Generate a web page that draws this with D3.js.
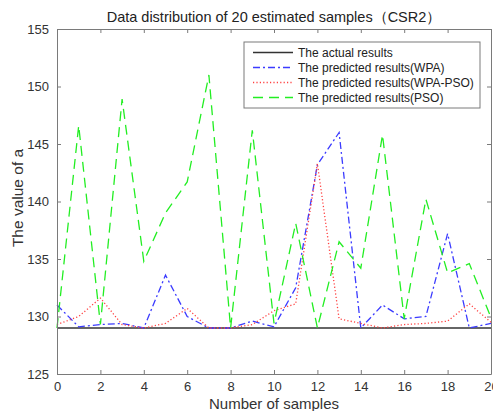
<!DOCTYPE html>
<html>
<head>
<meta charset="utf-8">
<script src="https://cdn.jsdelivr.net/npm/d3@7"></script>
<style>
    html, body { margin: 0; padding: 0; background: #fff; }
    svg { display: block; font-family: "Liberation Sans", Arial, sans-serif; }
</style>
</head>
<body>
<div id="chart"></div>
<script>
// Données (21 échantillons, 0..20)
const samples = d3.range(0, 21);

const actualValues = [129, 129, 129, 129, 129, 129, 129, 129, 129, 129, 129,
    129, 129, 129, 129, 129, 129, 129, 129, 129, 129];

const wpaValues = [131.0, 129.1, 129.3, 129.4, 129.0, 133.6, 130.0, 129.0, 129.0, 129.6, 129.1,
    132.5, 143.2, 146.0, 129.0, 131.0, 129.8, 130.0, 137.2, 129.0, 129.4];

const wpaPsoValues = [129.3, 130.0, 131.6, 129.3, 129.0, 129.4, 130.7, 129.0, 129.0, 129.3, 130.5,
    131.1, 143.3, 129.8, 129.4, 129.0, 129.3, 129.4, 129.6, 131.1, 129.5];

const psoValues = [129.0, 146.6, 129.3, 148.9, 134.8, 139.0, 141.7, 151.0, 129.0, 146.2, 129.4,
    138.1, 129.0, 136.5, 134.2, 145.8, 129.8, 140.2, 133.8, 134.6, 129.9];

const xTicks = [0, 2, 4, 6, 8, 10, 12, 14, 16, 18, 20];
const yTicks = [125, 130, 135, 140, 145, 150, 155];

const seriesNames = [
    "The actual results",
    "The predicted results(WPA)",
    "The predicted results(WPA-PSO)",
    "The predicted results(PSO)"
];

const series = [
    { name: seriesNames[0], values: actualValues, color: "#333333", dash: null, width: 1.3 },
    { name: seriesNames[1], values: wpaValues, color: "#3b3bff", dash: "7,3,2,3", width: 1.3 },
    { name: seriesNames[2], values: wpaPsoValues, color: "#ff4040", dash: "1.2,2.2", width: 1.3 },
    { name: seriesNames[3], values: psoValues, color: "#22ee22", dash: "10,6", width: 1.3 }
];

const W = 493, H = 411;
const margin = { top: 29, right: 2, bottom: 37, left: 57 };
const width = W - margin.left - margin.right;
const height = H - margin.top - margin.bottom;
const axisColor = "#7a7a7a";

const svg = d3.select("#chart").append("svg")
    .attr("width", W)
    .attr("height", H);

const g = svg.append("g")
    .attr("transform", `translate(${margin.left},${margin.top})`);

// Échelles
const x = d3.scaleLinear().domain([0, 20]).range([0, width]);
const y = d3.scaleLinear().domain([125, 155]).range([height, 0]);

// Fond blanc de la zone de tracé
g.append("rect")
    .attr("width", width)
    .attr("height", height)
    .attr("fill", "#fff");

// Courbes
const line = d3.line()
    .x((d, i) => x(samples[i]))
    .y(d => y(d));

series.forEach(s => {
    g.append("path")
        .datum(s.values)
        .attr("fill", "none")
        .attr("stroke", s.color)
        .attr("stroke-width", s.width)
        .attr("stroke-dasharray", s.dash)
        .attr("d", line);
});

// Axes (ticks vers l'intérieur, style MATLAB)
const tickLen = 4;
const styleAxis = sel => {
    sel.select(".domain").attr("stroke", axisColor);
    sel.selectAll(".tick line").attr("stroke", axisColor);
    sel.selectAll(".tick text").attr("fill", "#333").attr("font-size", "13px")
        .attr("font-family", "Liberation Sans, Arial, sans-serif");
};

g.append("g")
    .attr("transform", `translate(0,${height})`)
    .call(d3.axisBottom(x).tickValues(xTicks).tickSizeInner(-tickLen).tickSizeOuter(0).tickPadding(8))
    .call(styleAxis);

g.append("g")
    .call(d3.axisTop(x).tickValues(xTicks).tickSizeInner(-tickLen).tickSizeOuter(0).tickFormat(""))
    .call(styleAxis);

g.append("g")
    .call(d3.axisLeft(y).tickValues(yTicks).tickSizeInner(-tickLen).tickSizeOuter(0).tickPadding(8))
    .call(styleAxis);

g.append("g")
    .attr("transform", `translate(${width},0)`)
    .call(d3.axisRight(y).tickValues(yTicks).tickSizeInner(-tickLen).tickSizeOuter(0).tickFormat(""))
    .call(styleAxis);

// Titre et libellés
svg.append("text")
    .attr("x", margin.left + width / 2)
    .attr("y", 22)
    .attr("text-anchor", "middle")
    .attr("font-size", "14.5px")
    .attr("fill", "#222")
    .text("Data distribution of 20 estimated samples（CSR2）");

svg.append("text")
    .attr("x", margin.left + width / 2)
    .attr("y", 409)
    .attr("text-anchor", "middle")
    .attr("font-size", "15px")
    .attr("fill", "#333")
    .text("Number of samples");

svg.append("text")
    .attr("transform", `translate(23,198) rotate(-90)`)
    .attr("text-anchor", "middle")
    .attr("font-size", "15.5px")
    .attr("fill", "#333")
    .text("The value of a");

// Légende
const legend = svg.append("g").attr("transform", "translate(244,42)");
legend.append("rect")
    .attr("width", 236)
    .attr("height", 66)
    .attr("fill", "#fff")
    .attr("stroke", axisColor)
    .attr("stroke-width", 1);

series.forEach((s, i) => {
    const row = legend.append("g").attr("transform", `translate(0,${10.5 + i * 15})`);
    row.append("line")
        .attr("x1", 9).attr("x2", 49)
        .attr("y1", 0).attr("y2", 0)
        .attr("stroke", s.color)
        .attr("stroke-width", s.width)
        .attr("stroke-dasharray", s.dash);
    row.append("text")
        .attr("x", 54)
        .attr("y", 0)
        .attr("dy", "0.36em")
        .attr("font-size", "12px")
        .attr("fill", "#222")
        .text(s.name);
});
</script>
</body>
</html>
